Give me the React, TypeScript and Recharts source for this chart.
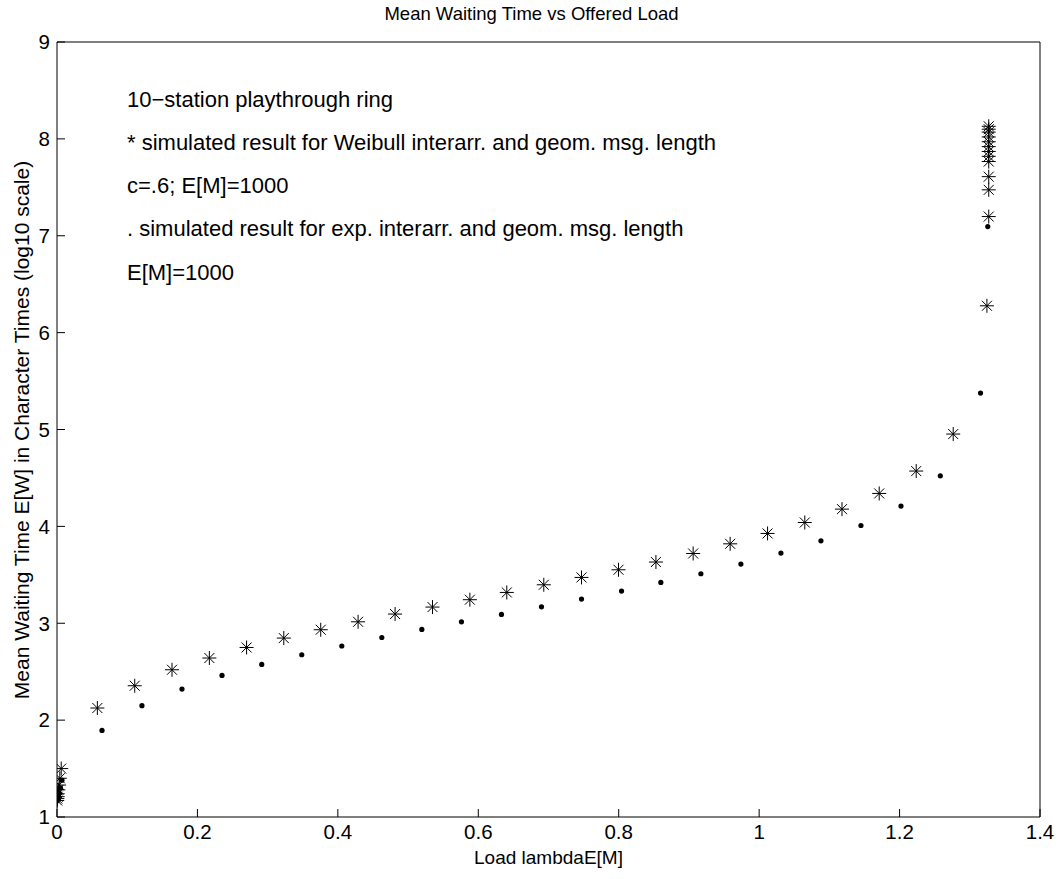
import React from 'react'
import { ScatterChart, Scatter, XAxis, YAxis } from 'recharts'

// Weibull interarrival (stars)
const weibullLoad = [
	0.0003, 0.0005, 0.001, 0.001, 0.002, 0.003, 0.004, 0.006,
	0.0575, 0.1107, 0.1638, 0.217, 0.27, 0.323, 0.3756, 0.4288, 0.4815, 0.5348,
	0.588, 0.6406, 0.6933, 0.747, 0.7997, 0.853, 0.906, 0.9587, 1.012, 1.065,
	1.118, 1.171, 1.2237, 1.2764, 1.3244, 1.327, 1.327, 1.327, 1.327, 1.327,
	1.327, 1.327, 1.327, 1.327, 1.327, 1.327, 1.327,
]
const weibullWait = [
	1.17, 1.19, 1.21, 1.24, 1.28, 1.33, 1.4, 1.5,
	2.125, 2.355, 2.52, 2.641, 2.75, 2.847, 2.933, 3.015, 3.095, 3.167,
	3.243, 3.318, 3.397, 3.473, 3.552, 3.632, 3.72, 3.82, 3.927, 4.04,
	4.178, 4.34, 4.571, 4.953, 6.277, 7.198, 7.474, 7.61, 7.766, 7.82,
	7.87, 7.92, 7.97, 8.02, 8.07, 8.1, 8.13,
]

// exponential interarrival (dots)
const expLoad = [
	0.0005, 0.001, 0.002, 0.003, 0.005, 0.007,
	0.0641, 0.121, 0.178, 0.235, 0.2916, 0.3486, 0.4056, 0.4626, 0.5196, 0.576,
	0.633, 0.69, 0.747, 0.804, 0.86, 0.917, 0.974, 1.031, 1.088, 1.145,
	1.202, 1.258, 1.3153, 1.3256,
]
const expWait = [
	1.17, 1.19, 1.22, 1.25, 1.3, 1.38,
	1.894, 2.149, 2.321, 2.461, 2.575, 2.675, 2.765, 2.853, 2.936, 3.015,
	3.091, 3.17, 3.25, 3.332, 3.421, 3.511, 3.611, 3.724, 3.851, 4.009,
	4.21, 4.522, 5.376, 7.095,
]

const xTicks = [0, 0.2, 0.4, 0.6, 0.8, 1, 1.2, 1.4]
const yTicks = [1, 2, 3, 4, 5, 6, 7, 8, 9]

const notes = [
	'10\u2212station playthrough ring',
	'* simulated result for Weibull interarr. and geom. msg. length',
	'c=.6; E[M]=1000',
	'. simulated result for exp. interarr. and geom. msg. length',
	'E[M]=1000',
]
const noteCenters = [100, 143, 186, 229, 273]

const weibullData = weibullLoad.map((x, i) => ({ x, y: weibullWait[i] }))
const expData = expLoad.map((x, i) => ({ x, y: expWait[i] }))

const font = '"Liberation Sans", Arial, sans-serif'

const Star = (props: any) => {
	const { cx, cy } = props
	const r = 7
	const d = 5
	return (
		<g stroke='#000' strokeWidth={1}>
			<line x1={cx} y1={cy - r} x2={cx} y2={cy + r} />
			<line x1={cx - r} y1={cy} x2={cx + r} y2={cy} />
			<line x1={cx - d} y1={cy - d} x2={cx + d} y2={cy + d} />
			<line x1={cx - d} y1={cy + d} x2={cx + d} y2={cy - d} />
		</g>
	)
}

const Dot = (props: any) => <circle cx={props.cx} cy={props.cy} r={2.6} fill='#000' />

const NoTick = () => <g />

const tickStyle = { fontSize: 20.5, fill: '#000', fontFamily: font }

export default function App() {
	return (
		<div style={{ position: 'absolute', left: 0, top: 0, width: 1063, height: 879, background: '#fff', fontFamily: font }}>
			<ScatterChart width={1063} height={879} margin={{ top: 0, right: 0, bottom: 0, left: 0 }}>
				<XAxis
					xAxisId='b'
					type='number'
					dataKey='x'
					domain={[0, 1.4]}
					ticks={xTicks}
					tickFormatter={(v: number) => String(v)}
					height={62}
					tickSize={-8}
					tickMargin={15}
					tick={tickStyle}
					stroke='#000'
					allowDataOverflow
				/>
				<XAxis
					xAxisId='t'
					orientation='top'
					type='number'
					domain={[0, 1.4]}
					ticks={xTicks}
					height={42}
					tickSize={-8}
					tick={NoTick}
					stroke='#000'
				/>
				<YAxis
					yAxisId='l'
					type='number'
					dataKey='y'
					domain={[1, 9]}
					ticks={yTicks}
					width={57}
					tickSize={-8}
					tickMargin={15}
					tick={tickStyle}
					stroke='#000'
					allowDataOverflow
				/>
				<YAxis
					yAxisId='r'
					orientation='right'
					type='number'
					domain={[1, 9]}
					ticks={yTicks}
					width={23}
					tickSize={-8}
					tick={NoTick}
					stroke='#000'
				/>
				<Scatter
					xAxisId='b'
					yAxisId='l'
					data={weibullData}
					shape={Star}
					isAnimationActive={false}
				/>
				<Scatter
					xAxisId='b'
					yAxisId='l'
					data={expData}
					shape={Dot}
					isAnimationActive={false}
				/>
			</ScatterChart>

			<div style={{ position: 'absolute', top: 2, left: 0, width: 1063, textAlign: 'center', fontSize: 18.5, lineHeight: '24px' }}>
				Mean Waiting Time vs Offered Load
			</div>
			<div style={{ position: 'absolute', top: 846, left: 57, width: 983, textAlign: 'center', fontSize: 19, lineHeight: '24px' }}>
				Load lambdaE[M]
			</div>
			<div
				style={{
					position: 'absolute',
					left: 22,
					top: 430,
					transform: 'translate(-50%, -50%) rotate(-90deg)',
					whiteSpace: 'nowrap',
					fontSize: 21,
					lineHeight: '24px',
				}}
			>
				Mean Waiting Time E[W] in Character Times (log10 scale)
			</div>
			{notes.map((t, i) => (
				<div
					key={i}
					style={{
						position: 'absolute',
						left: 127,
						top: noteCenters[i] - 12,
						fontSize: 22,
						lineHeight: '24px',
						whiteSpace: 'nowrap',
					}}
				>
					{t}
				</div>
			))}
		</div>
	)
}
